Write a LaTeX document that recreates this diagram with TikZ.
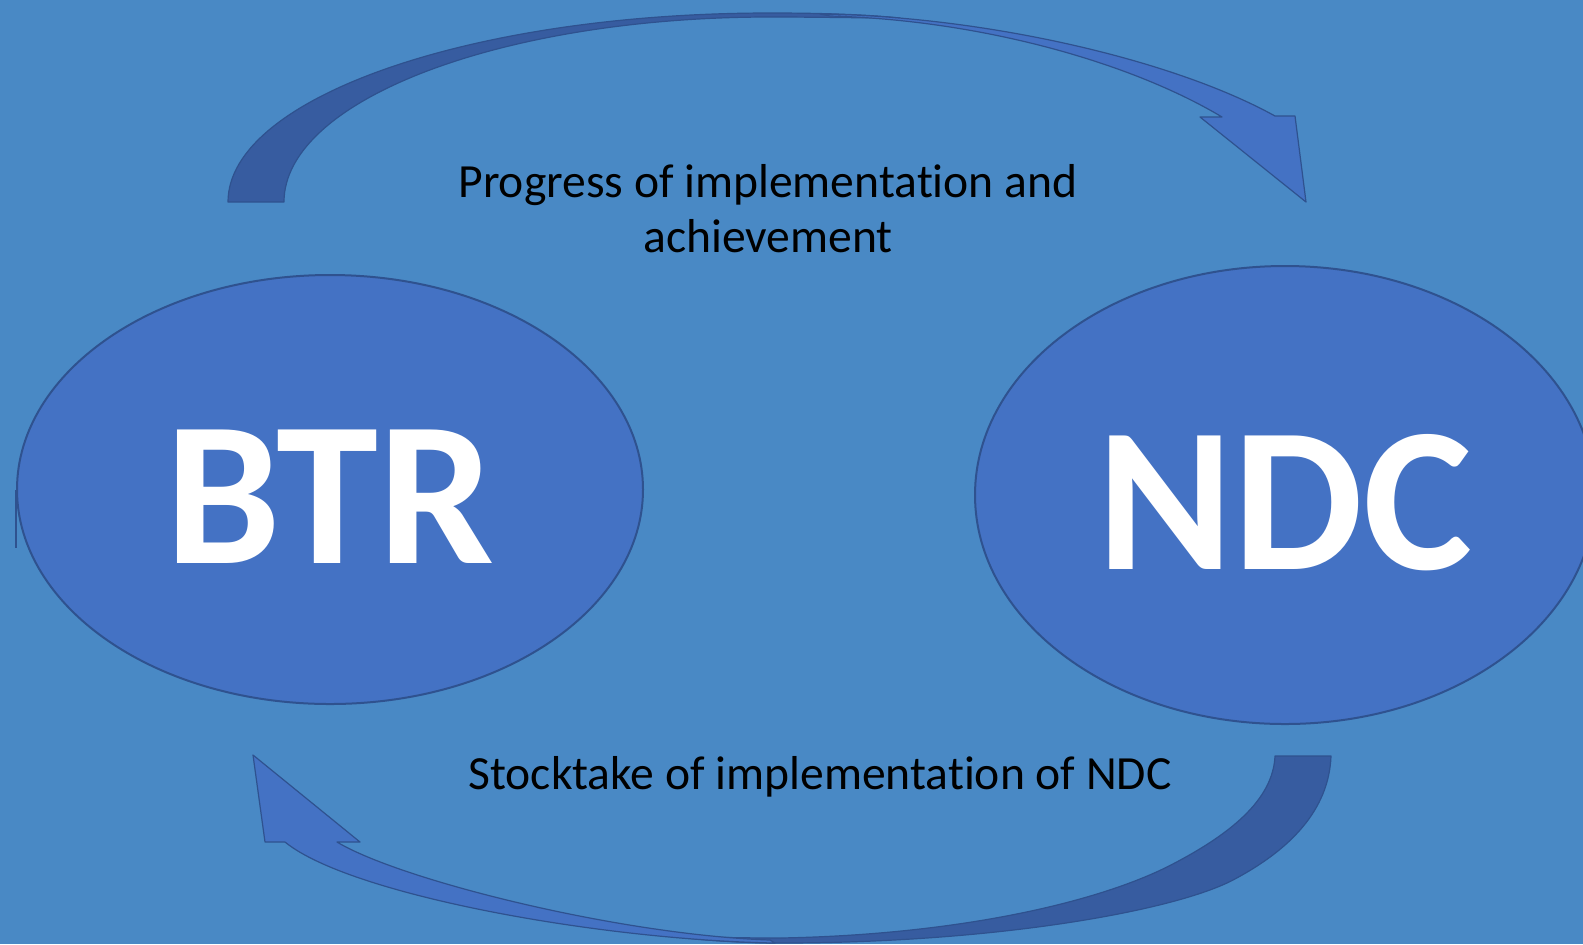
\documentclass[tikz,border=0pt]{standalone}
\usepackage{fontspec}
\setmainfont{Carlito}[Ligatures=NoCommon]
\usetikzlibrary{shapes.geometric}

\definecolor{slidebg}{RGB}{73,137,197}
\definecolor{officeblue}{RGB}{68,114,196}
\definecolor{officeline}{RGB}{47,82,143}
\definecolor{arrowshade}{RGB}{55,92,160}

\begin{document}
\begin{tikzpicture}[
    x=0.5pt, y=-0.5pt,
    % Block styles
    cycleblock/.style={
        ellipse,
        draw=officeline,
        line width=1pt,
        fill=officeblue,
        inner sep=0pt,
        text=white,
        text height=74pt,
        text depth=0pt,
        font=\fontsize{103}{110}\selectfont\bfseries
    },
    captiontext/.style={
        font=\fontsize{23.8}{27.5}\selectfont,
        text=black,
        align=center,
        inner sep=0pt
    },
    arrowfront/.style={fill=officeblue, draw=officeline, line width=0.6pt, line join=round},
    arrowback/.style={fill=arrowshade, draw=officeline, line width=0.6pt, line join=round}
]

% Slide background
\useasboundingbox (0,0) rectangle (1583,944);
\clip (0,0) rectangle (1583,944);
\fill[slidebg] (0,0) rectangle (1583,944);

% Top curved arrow (BTR to NDC)
\draw[arrowback] (228,202) .. controls (228,98) and (471,13) .. (770,13)
    .. controls (830,13) and (870,15) .. (900,18)
    .. controls (860,18) and (820,17) .. (770,17)
    .. controls (502,17) and (284,100) .. (284,202) -- cycle;
\draw[arrowfront] (820,14) .. controls (980,16) and (1170,58) .. (1275,116)
    -- (1295,116) -- (1306,202) -- (1200,117) -- (1222,117)
    .. controls (1130,62) and (980,20) .. (830,16) -- cycle;

% Bottom curved arrow (NDC to BTR)
\draw[arrowback] (1331,756) .. controls (1329,810) and (1290,850) .. (1233,880)
    .. controls (1176,910) and (1000,943) .. (780,943)
    .. controls (740,943) and (700,940) .. (670,936)
    .. controls (700,937) and (740,938) .. (780,938)
    .. controls (950,935) and (1090,905) .. (1167,867)
    .. controls (1230,835) and (1273,800) .. (1275,756) -- cycle;
\draw[arrowfront] (337,842) .. controls (400,880) and (620,935) .. (770,940)
    -- (775,943) .. controls (600,940) and (350,895) .. (285,842)
    -- (265,842) -- (253,755) -- (360,842) -- cycle;

% Reports
\node[cycleblock, minimum width=313pt, minimum height=214.5pt] (btr) at (330,489.5) {BTR};
\node[cycleblock, minimum width=310pt, minimum height=229pt] (ndc) at (1285,495) {NDC};
\draw[officeline, line width=1pt] (btr.west) -- ++(0,58);

% Labels
\node[captiontext] (progress) at (768,209) {Progress of implementation and\\achievement};
\node[captiontext, anchor=base] (stocktake) at (820,789) {Stocktake of implementation of NDC};

\end{tikzpicture}
\end{document}
